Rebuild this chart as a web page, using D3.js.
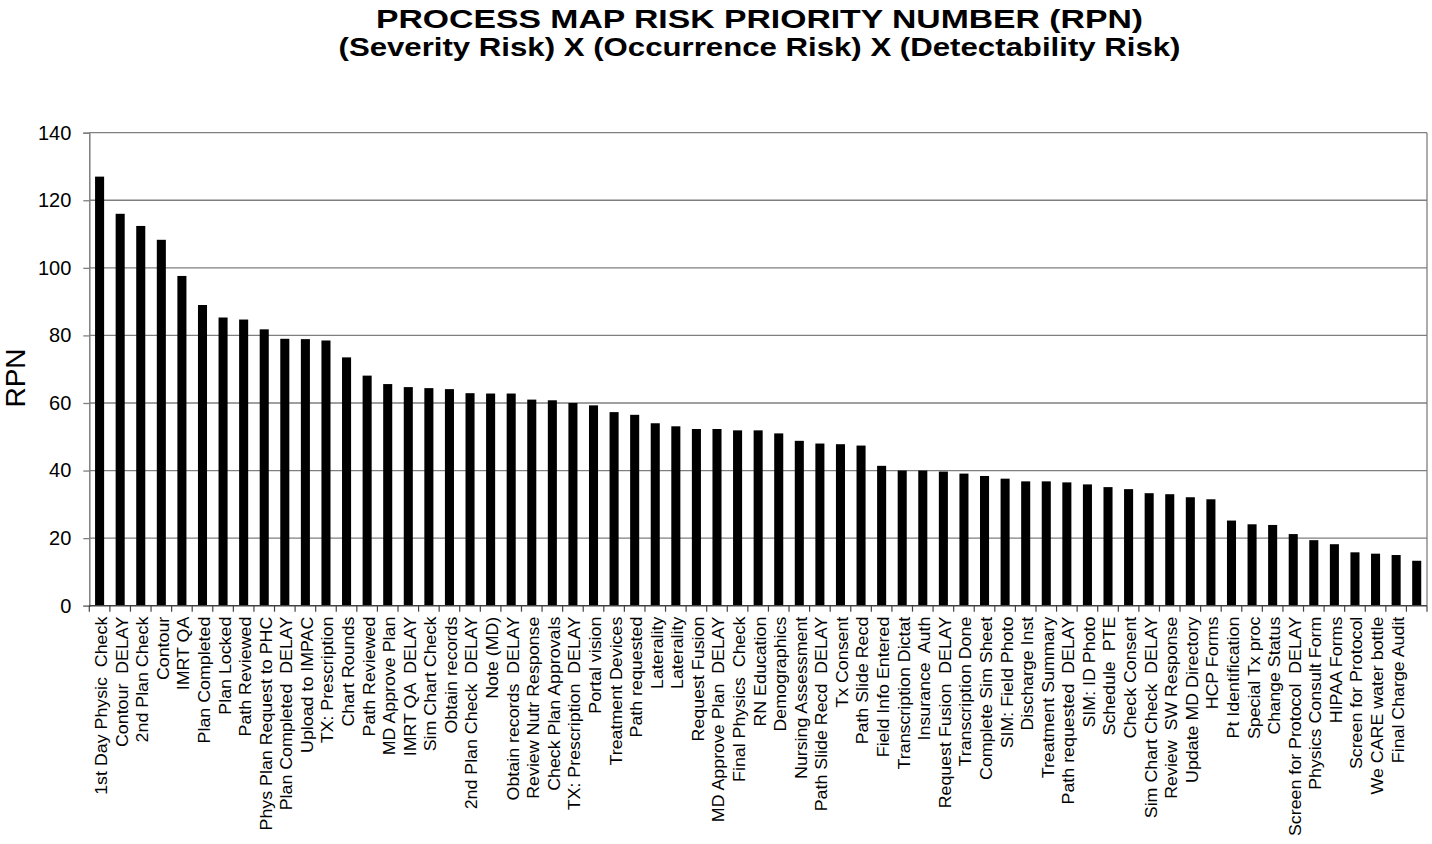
<!DOCTYPE html>
<html>
  <head>
    <meta charset="utf-8" />
    <script src="https://cdn.jsdelivr.net/npm/d3@7"></script>
    <style>
      body {
        margin: 0;
        background: #ffffff;
      }
      svg {
        display: block;
        font-family: "Liberation Sans", Arial, sans-serif;
      }
      .xlab {
        white-space: pre;
      }
    </style>
  </head>
  <body>
    <svg id="chart" width="1432" height="844"></svg>

    <script>
      // process steps, left to right (the last bar carries no label)
      const categories = [
        "1st Day Physic  Check", "Contour  DELAY", "2nd Plan Check", "Contour", "IMRT QA",
        "Plan Completed", "Plan Locked", "Path Reviewed", "Phys Plan Request to PHC",
        "Plan Completed  DELAY", "Upload to IMPAC", "TX: Prescription", "Chart Rounds",
        "Path Reviewed", "MD Approve Plan", "IMRT QA  DELAY", "Sim Chart Check",
        "Obtain records", "2nd Plan Check  DELAY", "Note (MD)", "Obtain records  DELAY",
        "Review Nutr Response", "Check Plan Approvals", "TX: Prescription  DELAY",
        "Portal vision", "Treatment Devices", "Path requested", "Laterality", "Laterality",
        "Request Fusion", "MD Approve Plan  DELAY", "Final Physics  Check", "RN Education",
        "Demographics", "Nursing Assessment", "Path Slide Recd  DELAY", "Tx Consent",
        "Path Slide Recd", "Field Info Entered", "Transcription Dictat", "Insurance  Auth",
        "Request Fusion  DELAY", "Transcription Done", "Complete Sim Sheet",
        "SIM: Field Photo", "Discharge Inst", "Treatment Summary", "Path requested  DELAY",
        "SIM: ID Photo", "Schedule  PTE", "Check Consent", "Sim Chart Check  DELAY",
        "Review  SW Response", "Update MD Directory", "HCP Forms", "Pt Identification",
        "Special Tx proc", "Change Status", "Screen for Protocol  DELAY",
        "Physics Consult Form", "HIPAA Forms", "Screen for Protocol", "We CARE water bottle",
        "Final Charge Audit", ""
      ];

      // RPN values
      const rpn = [
        127.0, 116.0, 112.4, 108.3, 97.6, 89.0, 85.3, 84.7, 81.8, 79.0,
        78.9, 78.5, 73.5, 68.1, 65.6, 64.7, 64.4, 64.1, 62.9, 62.8,
        62.8, 61.0, 60.8, 60.0, 59.3, 57.3, 56.5, 54.0, 53.1, 52.3,
        52.3, 51.9, 51.9, 51.0, 48.8, 48.0, 47.8, 47.4, 41.4, 40.0,
        40.0, 39.7, 39.1, 38.4, 37.6, 36.8, 36.8, 36.5, 35.9, 35.1,
        34.5, 33.3, 33.0, 32.1, 31.5, 25.2, 24.1, 23.9, 21.2, 19.4,
        18.2, 15.8, 15.4, 15.0, 13.3
      ];

      const yTicks = [0, 20, 40, 60, 80, 100, 120, 140];

      const titleLines = [
        "PROCESS MAP RISK PRIORITY NUMBER (RPN)",
        "(Severity Risk) X (Occurrence Risk) X (Detectability Risk)"
      ];

      const data = categories.map((c, i) => ({ key: i, label: c, value: rpn[i] }));

      const svg = d3.select("#chart");
      const plotL = 89.3, plotR = 1427, plotT = 132.7, plotB = 605.7;
      const grid = "#7f7f7f";

      const x = d3.scaleBand()
        .domain(data.map(d => d.key))
        .range([plotL, plotR])
        .paddingInner(0.56)
        .paddingOuter(0.28);

      const y = d3.scaleLinear().domain([0, 140]).range([plotB, plotT]);

      // title
      svg.append("g")
        .selectAll("text")
        .data(titleLines)
        .join("text")
        .attr("x", 759.5)
        .attr("y", (d, i) => (i === 0 ? 28 : 55.5))
        .attr("text-anchor", "middle")
        .attr("font-family", "'Liberation Sans Narrow', 'Liberation Sans', Arial, sans-serif")
        .attr("font-weight", "bold")
        .attr("font-size", 26)
        .attr("textLength", (d, i) => (i === 0 ? 767 : 842))
        .attr("lengthAdjust", "spacingAndGlyphs")
        .text(d => d);

      // horizontal gridlines
      svg.append("g")
        .selectAll("line")
        .data(yTicks.filter(t => t > 0))
        .join("line")
        .attr("x1", plotL)
        .attr("x2", plotR)
        .attr("y1", d => y(d))
        .attr("y2", d => y(d))
        .attr("stroke", grid)
        .attr("stroke-width", 1.3);

      // right border
      svg.append("line")
        .attr("x1", plotR).attr("x2", plotR)
        .attr("y1", plotT).attr("y2", plotB)
        .attr("stroke", grid)
        .attr("stroke-width", 1.3);

      // y axis
      const yAxis = svg.append("g")
        .attr("transform", `translate(${plotL},0)`)
        .call(d3.axisLeft(y).tickValues(yTicks).tickSize(6).tickPadding(12));
      yAxis.select(".domain").attr("stroke", grid).attr("stroke-width", 1.5);
      yAxis.selectAll(".tick line").attr("stroke", grid).attr("stroke-width", 1.3);
      yAxis.selectAll(".tick text")
        .attr("font-family", "'Liberation Sans', Arial, sans-serif")
        .attr("font-size", 20)
        .attr("fill", "#000");

      // bars
      svg.append("g")
        .selectAll("rect")
        .data(data)
        .join("rect")
        .attr("x", d => x(d.key))
        .attr("width", x.bandwidth())
        .attr("y", d => y(d.value))
        .attr("height", d => y(0) - y(d.value))
        .attr("fill", "#000");

      // x axis line and band-boundary ticks
      const bounds = d3.range(data.length + 1).map(i => plotL + i * x.step());
      const xg = svg.append("g");
      xg.append("line")
        .attr("x1", plotL).attr("x2", plotR)
        .attr("y1", plotB).attr("y2", plotB)
        .attr("stroke", "#404040")
        .attr("stroke-width", 1.5);
      xg.selectAll("line.tk")
        .data(bounds)
        .join("line")
        .attr("class", "tk")
        .attr("x1", d => d).attr("x2", d => d)
        .attr("y1", plotB).attr("y2", plotB + 6)
        .attr("stroke", "#404040")
        .attr("stroke-width", 1.2);

      // category labels, rotated
      svg.append("g")
        .selectAll("text")
        .data(data)
        .join("text")
        .attr("class", "xlab")
        .attr("transform", d => `translate(${x(d.key) + x.bandwidth() / 2 + 1.5},${plotB + 11}) rotate(-90) scale(1.08,1)`)
        .attr("text-anchor", "end")
        .attr("dy", "0.36em")
        .attr("font-size", 16.5)
        .attr("fill", "#000")
        .text(d => d.label);

      // y axis title
      svg.append("text")
        .attr("transform", "translate(25,378) rotate(-90)")
        .attr("text-anchor", "middle")
        .attr("font-size", 28)
        .attr("fill", "#000")
        .text("RPN");
    </script>
  </body>
</html>
